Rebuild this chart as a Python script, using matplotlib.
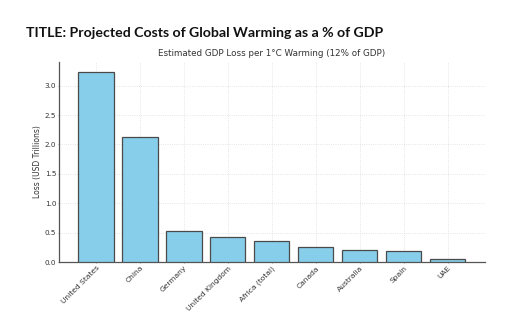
import matplotlib.pyplot as plt

countries = ["United States", "China", "Germany", "United Kingdom", "Africa (total)",
             "Canada", "Australia", "Spain", "UAE"]
losses = [3.24, 2.13, 0.53, 0.43, 0.35, 0.25, 0.20, 0.19, 0.06]
yticks = [0.0, 0.5, 1.0, 1.5, 2.0, 2.5, 3.0]

fig = plt.figure(figsize=(5.13, 3.28), dpi=100)
ax = fig.add_axes([0.115, 0.201, 0.83, 0.61])

ax.bar(range(len(countries)), losses, width=0.8, color="#87CEEB",
       edgecolor="#4a4a4a", linewidth=0.9, zorder=3)

ax.set_xticks(range(len(countries)))
ax.set_xticklabels(countries, rotation=45, ha="right", rotation_mode="anchor",
                   fontsize=5.4, color="#333333")
ax.set_yticks(yticks)
ax.set_yticklabels(["%.1f" % v for v in yticks], fontsize=5.2, color="#333333")
ax.tick_params(axis="both", length=1, width=0.5, color="#777777", pad=1)

ax.set_ylabel("Loss (USD Trillions)", fontsize=5.5, color="#333333", labelpad=2)
ax.set_title("Estimated GDP Loss per 1°C Warming (12% of GDP)", fontsize=6.3,
             color="#333333", pad=4)

ax.grid(True, color="#dddddd", linestyle=":", linewidth=0.6, zorder=0)
for side in ["top", "right"]:
    ax.spines[side].set_visible(False)
for side in ["left", "bottom"]:
    ax.spines[side].set_color("#555555")
    ax.spines[side].set_linewidth(0.9)

fig.text(0.051, 0.9, "TITLE: Projected Costs of Global Warming as a % of GDP",
         fontsize=10.2, fontweight="bold", family="Lato", color="#111111", va="center")

fig.savefig("out.png", dpi=100)
